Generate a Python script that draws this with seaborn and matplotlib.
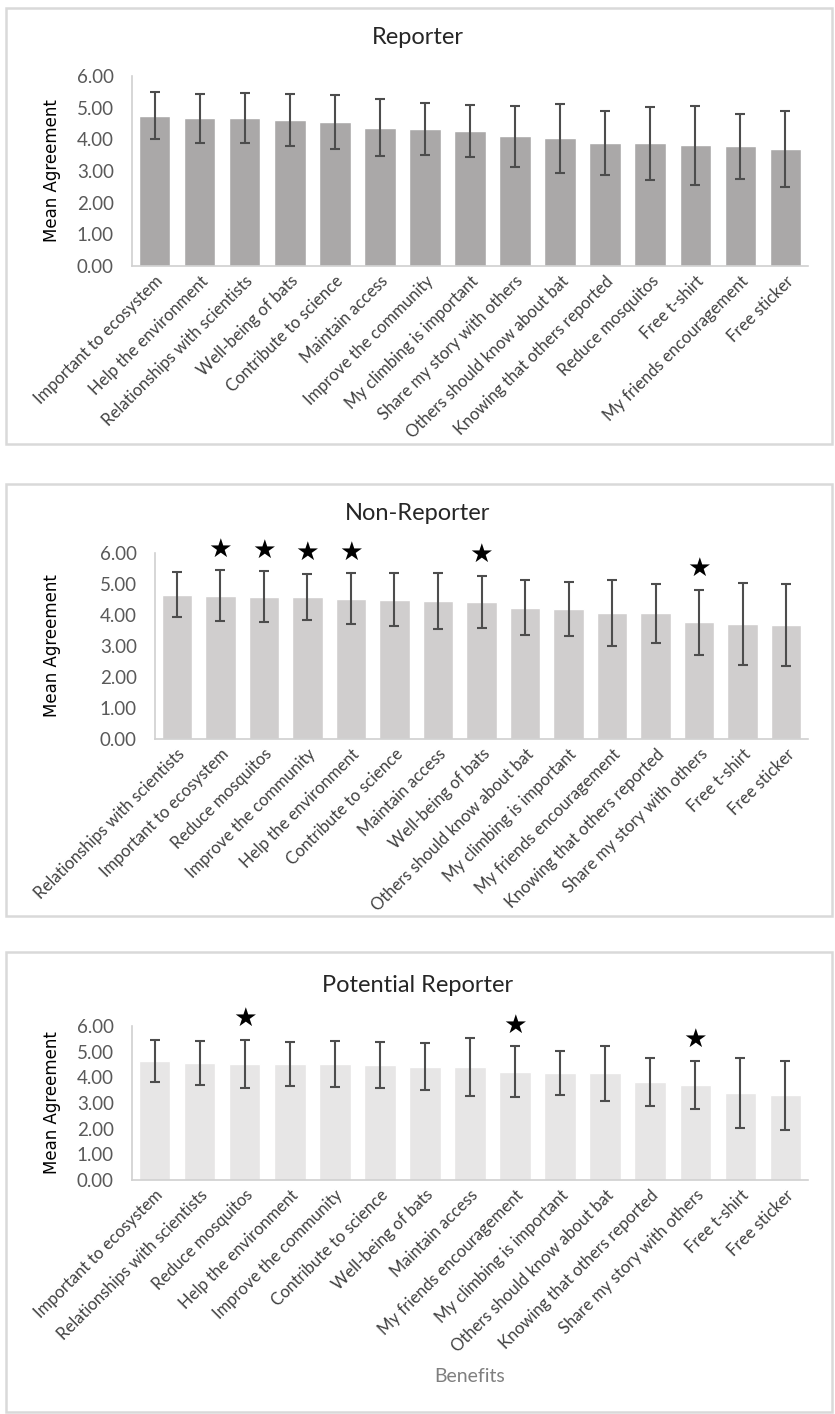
import matplotlib
matplotlib.use("Agg")
import matplotlib.pyplot as plt
from matplotlib.patches import Rectangle
import seaborn as sns

# Mean agreement (bars) and standard deviation (error bars) for each group
reporter_benefits = [
    "Important to ecosystem", "Help the environment", "Relationships with scientists",
    "Well-being of bats", "Contribute to science", "Maintain access",
    "Improve the community", "My climbing is important", "Share my story with others",
    "Others should know about bat", "Knowing that others reported", "Reduce mosquitos",
    "Free t-shirt", "My friends encouragement", "Free sticker",
]
reporter_means = [4.74, 4.66, 4.67, 4.61, 4.55, 4.37, 4.33, 4.25, 4.09, 4.03, 3.88, 3.88, 3.81, 3.78, 3.69]
reporter_sd = [0.74, 0.78, 0.80, 0.82, 0.85, 0.90, 0.83, 0.82, 0.97, 1.08, 1.01, 1.15, 1.25, 1.02, 1.19]
reporter_starred = []

nonreporter_benefits = [
    "Relationships with scientists", "Important to ecosystem", "Reduce mosquitos",
    "Improve the community", "Help the environment", "Contribute to science",
    "Maintain access", "Well-being of bats", "Others should know about bat",
    "My climbing is important", "My friends encouragement", "Knowing that others reported",
    "Share my story with others", "Free t-shirt", "Free sticker",
]
nonreporter_means = [4.65, 4.62, 4.59, 4.58, 4.52, 4.50, 4.46, 4.42, 4.24, 4.20, 4.06, 4.05, 3.76, 3.71, 3.68]
nonreporter_sd = [0.73, 0.82, 0.82, 0.75, 0.82, 0.84, 0.90, 0.85, 0.89, 0.87, 1.07, 0.96, 1.06, 1.33, 1.31]
nonreporter_starred = [
    "Important to ecosystem", "Reduce mosquitos", "Improve the community",
    "Help the environment", "Well-being of bats", "Share my story with others",
]

potential_benefits = [
    "Important to ecosystem", "Relationships with scientists", "Reduce mosquitos",
    "Help the environment", "Improve the community", "Contribute to science",
    "Well-being of bats", "Maintain access", "My friends encouragement",
    "My climbing is important", "Others should know about bat", "Knowing that others reported",
    "Share my story with others", "Free t-shirt", "Free sticker",
]
potential_means = [4.62, 4.56, 4.52, 4.52, 4.52, 4.48, 4.42, 4.40, 4.22, 4.18, 4.16, 3.82, 3.70, 3.40, 3.30]
potential_sd = [0.82, 0.84, 0.94, 0.84, 0.88, 0.88, 0.90, 1.12, 0.99, 0.86, 1.08, 0.93, 0.93, 1.36, 1.34]
potential_starred = ["Reduce mosquitos", "My friends encouragement", "Share my story with others"]

yticks = [0, 1, 2, 3, 4, 5, 6]

sns.set_theme(style="white")
plt.rcParams["font.family"] = ["Lato", "DejaVu Sans"]

W, H = 835, 1414
fig = plt.figure(figsize=(W / 100, H / 100), dpi=100)
fig.patch.set_facecolor("white")


def fx(px):
    return px / W


def fy(py):
    return 1 - py / H


panels = [
    dict(title="Reporter", cats=reporter_benefits, means=reporter_means, sd=reporter_sd,
         stars=reporter_starred, color="#aaa8a8", box=(6, 8, 832, 444),
         ax=(132, 76, 808, 266), title_y=37),
    dict(title="Non-Reporter", cats=nonreporter_benefits, means=nonreporter_means,
         sd=nonreporter_sd, stars=nonreporter_starred, color="#d0cece",
         box=(6, 484, 832, 916), ax=(155, 553, 808, 739), title_y=513),
    dict(title="Potential Reporter", cats=potential_benefits, means=potential_means,
         sd=potential_sd, stars=potential_starred, color="#e7e6e6",
         box=(6, 952, 832, 1412), ax=(132, 1026, 808, 1180), title_y=985),
]

for p in panels:
    x0, y0, x1, y1 = p["box"]
    fig.patches.append(Rectangle((fx(x0), fy(y1)), fx(x1 - x0), (y1 - y0) / H,
                                 transform=fig.transFigure, facecolor="none",
                                 edgecolor="#d9d9d9", linewidth=1.8, zorder=0))

    ax_l, ax_t, ax_r, ax_b = p["ax"]
    ax = fig.add_axes([fx(ax_l), fy(ax_b), fx(ax_r - ax_l), (ax_b - ax_t) / H])
    n = len(p["cats"])
    sns.barplot(x=p["cats"], y=p["means"], color=p["color"], saturation=1,
                width=0.7, errorbar=None, ax=ax, zorder=2)
    ax.errorbar(range(n), p["means"], yerr=p["sd"], fmt="none", ecolor="#4d4d4d",
                elinewidth=1.5, capsize=3.6, capthick=1.5, zorder=3)

    tops = [m + s for m, s in zip(p["means"], p["sd"])]
    for name in p["stars"]:
        i = p["cats"].index(name)
        ax.annotate("\u2605", xy=(i, tops[i]), xytext=(0, 15), textcoords="offset points",
                    ha="center", va="center", fontsize=19, color="black",
                    family="DejaVu Sans", annotation_clip=False)

    ax.set_xlim(-0.5, n - 0.5)
    ax.set_ylim(0, 6)
    ax.set_yticks(yticks)
    ax.set_yticklabels([f"{v:.2f}" for v in yticks])
    ax.tick_params(axis="y", length=0, pad=13, labelsize=13.5, labelcolor="#595959")
    ax.tick_params(axis="x", length=0, pad=5, labelsize=12, labelcolor="#404040")
    plt.setp(ax.get_xticklabels(), rotation=45, ha="right", rotation_mode="anchor")
    ax.set_xlabel("")
    ax.set_ylabel("")
    for side in ("top", "right"):
        ax.spines[side].set_visible(False)
    for side in ("left", "bottom"):
        ax.spines[side].set_color("#d0d0d0")
        ax.spines[side].set_linewidth(1.2)
    ax.grid(False)

    fig.text(0.5, fy(p["title_y"]), p["title"], ha="center", va="center",
             fontsize=17, color="#262626")
    fig.text(fx(52), fy((ax_t + ax_b) / 2), "Mean Agreement", rotation=90,
             ha="center", va="center", fontsize=12, color="black", family="DejaVu Sans")

fig.text(fx(470), fy(1376), "Benefits", ha="center", va="center",
         fontsize=14, color="#7f7f7f")

fig.savefig("out.png", dpi=100)
